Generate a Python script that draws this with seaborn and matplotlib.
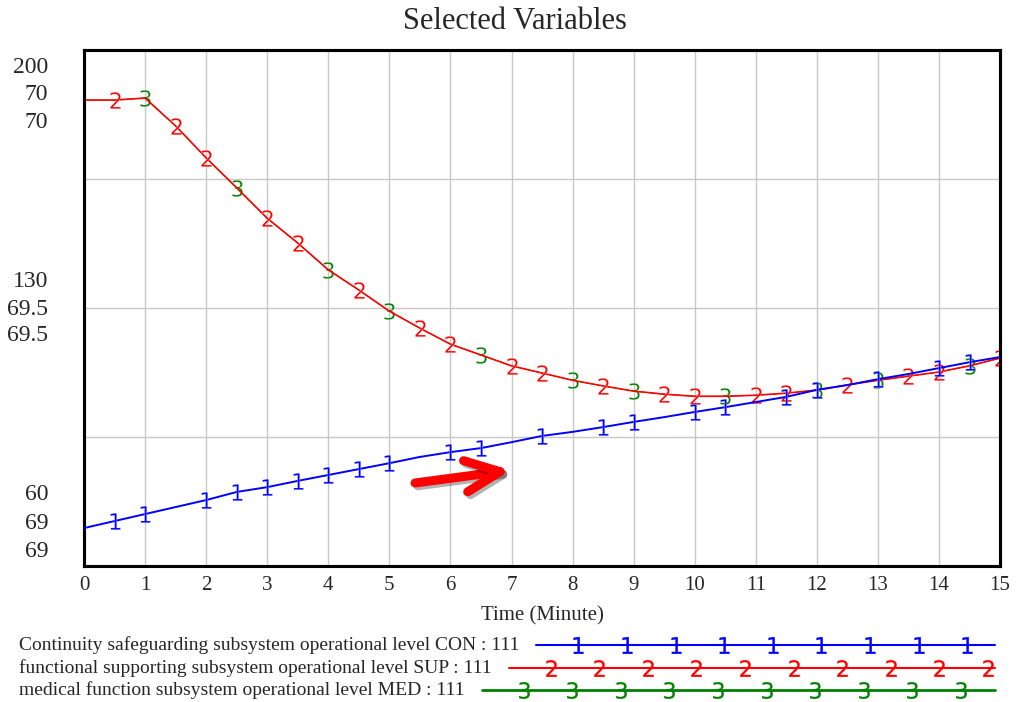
import numpy as np
import matplotlib
matplotlib.use("Agg")
import matplotlib.pyplot as plt
import matplotlib.patches as mpatches
import matplotlib.patheffects as pe
from matplotlib.lines import Line2D
import seaborn as sns

# ── Data ──────────────────────────────────────────────────────────────────────
time = np.arange(0, 15.5, 0.5)

con = [70.3, 72.2, 74.1, 76.0, 77.9, 80.1, 81.4, 83.1, 84.7, 86.3, 87.9,
       89.6, 90.9, 92.0, 93.6, 95.3, 96.4, 97.7, 99.1, 100.4, 101.8, 103.1,
       104.5, 105.9, 107.8, 109.1, 110.7, 112.1, 113.7, 115.3, 116.7]

sup = [69.903, 69.903, 69.907, 69.853, 69.791, 69.733, 69.674, 69.626,
       69.574, 69.535, 69.494, 69.461, 69.430, 69.409, 69.388, 69.374,
       69.360, 69.349, 69.339, 69.333, 69.329, 69.329, 69.331, 69.335,
       69.341, 69.351, 69.360, 69.368, 69.376, 69.388, 69.403]

med = [69.903, 69.903, 69.907, 69.853, 69.791, 69.733, 69.674, 69.626,
       69.574, 69.535, 69.494, 69.461, 69.430, 69.409, 69.388, 69.374,
       69.360, 69.349, 69.339, 69.333, 69.329, 69.329, 69.331, 69.335,
       69.341, 69.351, 69.360, 69.368, 69.376, 69.388, 69.403]

# times where the numbered markers sit
con_marks = [0.5, 1, 2, 2.5, 3, 3.5, 4, 4.5, 5, 6, 6.5, 7.5, 8.5, 9, 10, 10.5,
             11.5, 12, 13, 14, 14.5]
sup_marks = [0.5, 1.5, 2, 3, 3.5, 4.5, 5.5, 6, 7, 7.5, 8.5, 9.5, 10, 11, 11.5,
             12.5, 13.5, 14, 15]
med_marks = [1, 2.5, 4, 5, 6.5, 8, 9, 10.5, 12, 13, 14.5]

x_ticks = list(range(16))
ytick_groups = [("200", "70", "70"), ("130", "69.5", "69.5"), ("60", "69", "69")]
legend_labels = [
    "Continuity safeguarding subsystem operational level CON : 111",
    "functional supporting subsystem operational level SUP : 111",
    "medical function subsystem operational level MED : 111",
]

# ── Style ─────────────────────────────────────────────────────────────────────
_BLUE = "#0000ff"
_RED = "#ff0000"
_GREEN = "#008000"
_GRID = dict(color="#c8c8c8", linewidth=1.0)
_SERIF = ["Liberation Serif", "DejaVu Serif"]
_MARK = dict(markersize=12, markeredgewidth=0.2)

sns.set_style("white")
plt.rcParams["font.family"] = _SERIF
plt.rcParams["mathtext.fontset"] = "dejavusans"


def _idx(marks):
    return [int(round(m * 2)) for m in marks]


fig = plt.figure(figsize=(10.16, 7.02), dpi=100)
ax = fig.add_axes([0.0827, 0.1937, 0.9016, 0.7350])
ax2 = ax.twinx()

# SUP / MED on the 69..70 scale, CON on the 60..200 scale (drawn on top)
sns.lineplot(x=time, y=med, ax=ax, color=_GREEN, linewidth=0.6,
             marker="$3$", markevery=_idx(med_marks), zorder=2, **_MARK)
sns.lineplot(x=time, y=sup, ax=ax, color=_RED, linewidth=1.2,
             marker="$2$", markevery=_idx(sup_marks), zorder=3, **_MARK)
sns.lineplot(x=time, y=con, ax=ax2, color=_BLUE, linewidth=1.4,
             marker="$1$", markevery=_idx(con_marks), zorder=4, **_MARK)

ax.set_xlim(0, 15)
ax.set_ylim(69, 70)
ax2.set_ylim(60, 200)
ax.set_xticks(x_ticks)
ax.set_xticklabels([str(t) for t in x_ticks], fontsize=15)
ax.set_yticks(np.linspace(69, 70, 5))
ax.set_yticklabels([])
ax2.set_yticks([])
ax.tick_params(length=0, pad=7)
ax.grid(True, **_GRID)
ax.set_xlabel("Time (Minute)", fontsize=15, labelpad=8)
ax.set_ylabel("")
ax2.set_ylabel("")

for a in (ax, ax2):
    for sp in a.spines.values():
        sp.set_color("black")
        sp.set_linewidth(2.2)

# stacked scale labels (Vensim style): top, middle, bottom
y_fracs = [(0.967, 0.913, 0.860), (0.552, 0.498, 0.446), (0.138, 0.083, 0.029)]
for labels, fracs in zip(ytick_groups, y_fracs):
    for lab, fy in zip(labels, fracs):
        ax.text(-0.039, fy, lab, transform=ax.transAxes, ha="right",
                va="center", fontsize=17)

fig.text(0.507, 0.969, "Selected Variables", ha="center", va="center",
         fontsize=22)

# red annotation arrow (thick open head, round caps)
arrow = mpatches.FancyArrowPatch(
    (0.3614, 0.1609), (0.466, 0.1857), transform=ax.transAxes,
    arrowstyle="->,head_length=2.5,head_width=1.13", mutation_scale=10,
    color=_RED, linewidth=6.5, capstyle="round", joinstyle="round",
    shrinkA=0, shrinkB=0, zorder=6,
    path_effects=[pe.SimpleLineShadow(offset=(2, -2), alpha=0.3),
                  pe.Normal()])
ax.add_patch(arrow)

# ── Legend rows under the plot ────────────────────────────────────────────────
fig.canvas.draw()
renderer = fig.canvas.get_renderer()
row_y = [645, 668, 690]
colors = [_BLUE, _RED, _GREEN]
digits = ["1", "2", "3"]
W, H = fig.bbox.width, fig.bbox.height
for lab, py, col, dg in zip(legend_labels, row_y, colors, digits):
    yf = 1 - py / H
    t = fig.text(19 / W, yf, lab, ha="left", va="center", fontsize=14)
    x_end_px = t.get_window_extent(renderer).x1
    x0 = x_end_px + 17
    x1 = 995
    fig.add_artist(Line2D([x0 / W, x1 / W], [yf, yf], color=col,
                          linewidth=1.5 if dg != "3" else 2.0))
    mx = x0 + 42
    while mx < x1:
        fig.add_artist(Line2D([mx / W], [yf], color=col, marker=f"${dg}$",
                              linestyle="none", **_MARK))
        mx += 48.6

fig.savefig("out.png", dpi=100)
